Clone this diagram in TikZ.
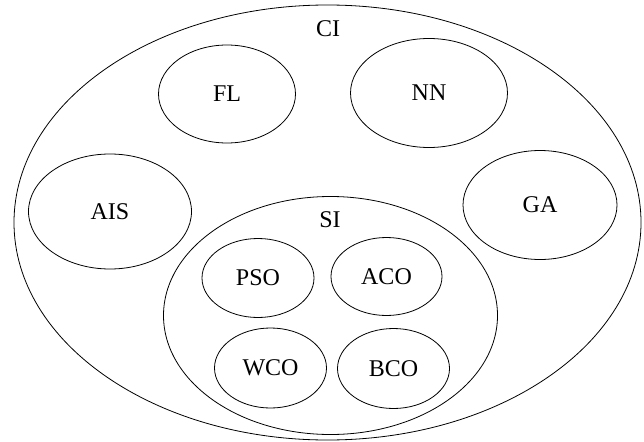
\documentclass[tikz,border=0pt]{standalone}
\usepackage{fontspec}
\setmainfont{Liberation Serif}
\usetikzlibrary{shapes.geometric}
\begin{document}
\begin{tikzpicture}[x=1pt,y=-1pt]
% Styles (MODIFIABLES)
\tikzstyle{ensemble}=[draw,ellipse,line width=0.8pt,inner sep=0pt,font=\fontsize{24}{28}\selectfont]
\tikzstyle{etiquette}=[inner sep=0pt,font=\fontsize{24}{28}\selectfont]
% Cadre
\useasboundingbox (0,0) rectangle (644,441);
% Grand ensemble
\node[ensemble,minimum width=627pt,minimum height=435pt] (CI) at (327.5,222.5) {};
\node[etiquette] (CIlabel) at (328,29) {CI};
% Noeuds (MODIFIABLES)
\node[ensemble,minimum width=137pt,minimum height=98pt] (FL) at (227,94) {FL};
\node[ensemble,minimum width=157pt,minimum height=109pt] (NN) at (429,93) {NN};
\node[ensemble,minimum width=163pt,minimum height=115pt] (AIS) at (110,211.5) {AIS};
\node[ensemble,minimum width=154pt,minimum height=109pt] (GA) at (540,205) {GA};
% Sous-ensemble SI
\node[ensemble,minimum width=334pt,minimum height=238pt] (SI) at (330.5,315.5) {};
\node[etiquette] (SIlabel) at (330,220) {SI};
\node[ensemble,minimum width=112pt,minimum height=79pt] (PSO) at (258,278) {PSO};
\node[ensemble,minimum width=111pt,minimum height=78pt] (ACO) at (386.5,276.5) {ACO};
\node[ensemble,minimum width=112pt,minimum height=80pt] (WCO) at (270.5,368) {WCO};
\node[ensemble,minimum width=112pt,minimum height=80pt] (BCO) at (393.5,368.5) {BCO};
\end{tikzpicture}
\end{document}
